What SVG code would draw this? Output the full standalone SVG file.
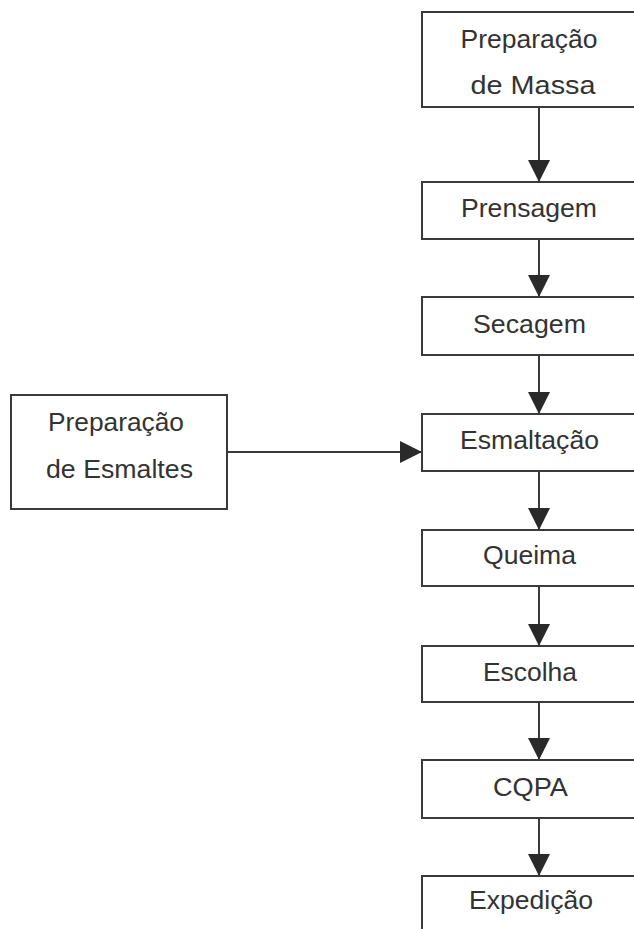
<svg xmlns="http://www.w3.org/2000/svg" width="634" height="929" viewBox="0 0 634 929">
<style>
.box{fill:#fff;stroke:#3a3a3a;stroke-width:2}
.lbl{font-family:"Liberation Sans",Arial,sans-serif;font-size:25px;fill:#333;text-anchor:middle}
.con{stroke:#3a3a3a;stroke-width:2;fill:none}
</style>
<defs>
<marker id="ah" markerUnits="userSpaceOnUse" markerWidth="22" markerHeight="22" viewBox="0 0 20 20" refX="20" refY="10" orient="auto">
<path d="M0,0 L20,10 L0,20 Z" fill="#2a2a2a"/>
</marker>
</defs>
<rect width="634" height="929" fill="#fff"/>
<g id="connectors">
<line class="con" x1="539" y1="107" x2="539" y2="182" marker-end="url(#ah)"/>
<line class="con" x1="539" y1="239" x2="539" y2="297" marker-end="url(#ah)"/>
<line class="con" x1="539" y1="355" x2="539" y2="414" marker-end="url(#ah)"/>
<line class="con" x1="539" y1="471" x2="539" y2="530" marker-end="url(#ah)"/>
<line class="con" x1="539" y1="586" x2="539" y2="646" marker-end="url(#ah)"/>
<line class="con" x1="539" y1="702" x2="539" y2="760" marker-end="url(#ah)"/>
<line class="con" x1="539" y1="818" x2="539" y2="876" marker-end="url(#ah)"/>
<line class="con" x1="227" y1="452" x2="422" y2="452" marker-end="url(#ah)"/>
</g>
<g id="prep-massa">
<rect class="box" x="422" y="12" width="216" height="95"/>
<text class="lbl" x="529" y="48" textLength="137" lengthAdjust="spacingAndGlyphs">Preparação</text>
<text class="lbl" x="533" y="94" textLength="125" lengthAdjust="spacingAndGlyphs">de Massa</text>
</g>
<g id="prensagem">
<rect class="box" x="422" y="182" width="216" height="57"/>
<text class="lbl" x="529" y="217" textLength="136" lengthAdjust="spacingAndGlyphs">Prensagem</text>
</g>
<g id="secagem">
<rect class="box" x="422" y="297" width="216" height="58"/>
<text class="lbl" x="529.5" y="333" textLength="113" lengthAdjust="spacingAndGlyphs">Secagem</text>
</g>
<g id="esmaltacao">
<rect class="box" x="422" y="414" width="216" height="57"/>
<text class="lbl" x="529.5" y="449" textLength="139" lengthAdjust="spacingAndGlyphs">Esmaltação</text>
</g>
<g id="queima">
<rect class="box" x="422" y="530" width="216" height="56"/>
<text class="lbl" x="529.5" y="564" textLength="93" lengthAdjust="spacingAndGlyphs">Queima</text>
</g>
<g id="escolha">
<rect class="box" x="422" y="646" width="216" height="56"/>
<text class="lbl" x="530" y="681" textLength="94" lengthAdjust="spacingAndGlyphs">Escolha</text>
</g>
<g id="cqpa">
<rect class="box" x="422" y="760" width="216" height="58"/>
<text class="lbl" x="530.5" y="796" textLength="75" lengthAdjust="spacingAndGlyphs">CQPA</text>
</g>
<g id="expedicao">
<rect class="box" x="422" y="876" width="216" height="70"/>
<text class="lbl" x="531" y="909" textLength="124" lengthAdjust="spacingAndGlyphs">Expedição</text>
</g>
<g id="prep-esmaltes">
<rect class="box" x="11" y="395" width="216" height="114"/>
<text class="lbl" x="116" y="431" textLength="136" lengthAdjust="spacingAndGlyphs">Preparação</text>
<text class="lbl" x="119.5" y="478" textLength="147" lengthAdjust="spacingAndGlyphs">de Esmaltes</text>
</g>
</svg>
